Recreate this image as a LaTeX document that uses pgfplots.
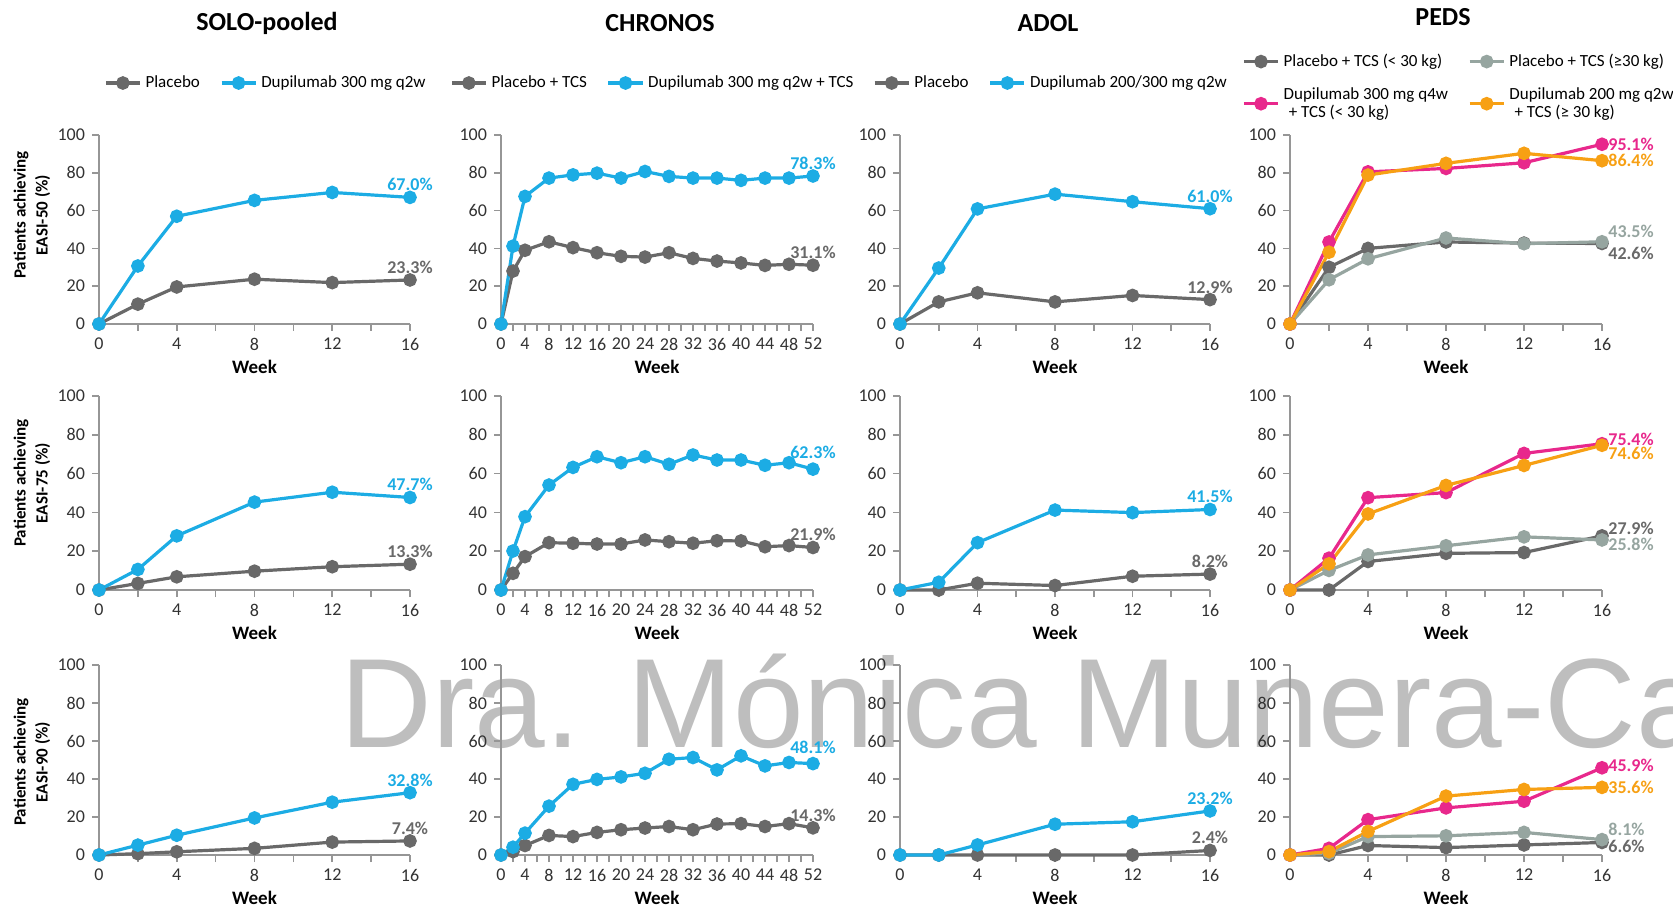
\documentclass[border=0pt]{standalone}
\usepackage{fontspec}
\setmainfont{Carlito}
\newfontfamily\wmfont{Liberation Sans}
\usepackage{pgfplots}
\pgfplotsset{compat=1.18}

\definecolor{cblue}{RGB}{28,172,228}
\definecolor{cgray}{RGB}{105,105,105}
\definecolor{clgray}{RGB}{150,165,160}
\definecolor{cpink}{RGB}{232,40,140}
\definecolor{corange}{RGB}{247,160,20}
\definecolor{axgray}{RGB}{150,150,150}
\definecolor{tickc}{RGB}{50,50,50}
\definecolor{wm}{RGB}{190,190,190}

\pgfplotsset{
  panel/.style={
    scale only axis, clip=false,
    axis x line*=bottom, axis y line*=left,
    axis line style={draw=axgray, line width=0.8pt},
    xmin=0, ymin=0, ymax=100,
    ytick={0,20,...,100},
    tick style={draw=axgray, line width=0.8pt},
    tick align=outside,
    major tick length=3.5pt, minor tick length=3.5pt,
    ticklabel style={font=\fontsize{9}{10}\selectfont, text=tickc},
    /pgf/number format/assume math mode=true,
    xlabel={Week},
    xlabel style={font=\bfseries\fontsize{9.5}{10}\selectfont, text=black, yshift=2pt},
    legend style={draw=none, fill=none, font=\fontsize{8.5}{9}\selectfont,
      legend columns=2, anchor=center, nodes={align=left},
      /tikz/every even column/.append style={column sep=8pt}},
    legend cell align=left,
  },
  w16/.style={xmax=16, xtick={0,4,...,16}, minor xtick={2,6,10,14}},
  w52/.style={xmax=52, xtick={0,4,...,52}, minor xtick={2,6,...,50}},
  ser/.style={color=#1, line width=1.6pt, mark=*, mark size=2.6pt,
    mark options={fill=#1, draw=#1}},
}
\newcommand{\lastlab}[5]{\node[font=\bfseries\fontsize{9}{10}\selectfont, text=#1, inner sep=1pt, #2] at (axis cs:#3,#4) {#5};}

\begin{document}
\begin{tikzpicture}
\useasboundingbox (0,0) rectangle (836.5pt,455.5pt);

% watermark
\begin{scope}
\clip (0,0) rectangle (836.5pt,455.5pt);
\node[anchor=base west, inner sep=0pt, text=wm, font=\wmfont\fontsize{63.5}{70}\selectfont] at (170pt,82pt) {Dra. Mónica Munera-Castro};
\end{scope}

% titles
\node[font=\bfseries\fontsize{13}{14}\selectfont] at (133.5pt,444pt) {SOLO-pooled};
\node[font=\bfseries\fontsize{13}{14}\selectfont] at (330pt,444pt) {CHRONOS};
\node[font=\bfseries\fontsize{13}{14}\selectfont] at (524pt,444pt) {ADOL};
\node[font=\bfseries\fontsize{13}{14}\selectfont] at (721.5pt,447pt) {PEDS};

% y labels
\node[rotate=90, align=center, font=\bfseries\fontsize{8.5}{11}\selectfont] at (16pt,348pt) {Patients achieving\\EASI-50 (\%)};
\node[rotate=90, align=center, font=\bfseries\fontsize{8.5}{11}\selectfont] at (16pt,214pt) {Patients achieving\\EASI-75 (\%)};
\node[rotate=90, align=center, font=\bfseries\fontsize{8.5}{11}\selectfont] at (16pt,74.5pt) {Patients achieving\\EASI-90 (\%)};

% ===== Row 1: EASI-50 =====
\begin{axis}[panel, w16, at={(49.5pt,293.5pt)}, anchor=south west, width=155.5pt, height=94.5pt,
  legend style={at={(0.54,1.275)}}]
\addplot[ser=cgray] coordinates {(0,0) (2,10.5) (4,19.6) (8,23.7) (12,21.9) (16,23.3)};
\addlegendentry{Placebo}
\addplot[ser=cblue] coordinates {(0,0) (2,30.7) (4,57) (8,65.4) (12,69.6) (16,67.0)};
\addlegendentry{Dupilumab 300 mg q2w}
\lastlab{cgray}{anchor=south, yshift=2pt}{16}{23.3}{23.3\%}
\lastlab{cblue}{anchor=south, yshift=2pt}{16}{67.0}{67.0\%}
\end{axis}

\begin{axis}[panel, w52, at={(250.5pt,293.5pt)}, anchor=south west, width=156pt, height=94.5pt,
  legend style={at={(0.49,1.275)}}]
\addplot[ser=cgray] coordinates {(0,0) (2,28) (4,39) (8,43.5) (12,40.4) (16,37.7) (20,35.8) (24,35.4) (28,37.7) (32,34.7) (36,33.3) (40,32.3) (44,31) (48,31.6) (52,31.1)};
\addlegendentry{Placebo + TCS}
\addplot[ser=cblue] coordinates {(0,0) (2,41.2) (4,67.5) (8,77.2) (12,78.9) (16,79.8) (20,77.2) (24,80.7) (28,78.1) (32,77.2) (36,77.2) (40,76) (44,77.2) (48,77.2) (52,78.3)};
\addlegendentry{Dupilumab 300 mg q2w + TCS}
\lastlab{cgray}{anchor=south, yshift=2pt}{52}{31.1}{31.1\%}
\lastlab{cblue}{anchor=south, yshift=2pt}{52}{78.3}{78.3\%}
\end{axis}

\begin{axis}[panel, w16, at={(450pt,293.5pt)}, anchor=south west, width=155pt, height=94.5pt,
  legend style={at={(0.49,1.275)}}]
\addplot[ser=cgray] coordinates {(0,0) (2,11.7) (4,16.5) (8,11.7) (12,15.1) (16,12.9)};
\addlegendentry{Placebo}
\addplot[ser=cblue] coordinates {(0,0) (2,29.6) (4,60.9) (8,68.7) (12,64.7) (16,61.0)};
\addlegendentry{Dupilumab 200/300 mg q2w}
\lastlab{cgray}{anchor=south, yshift=2pt}{16}{12.9}{12.9\%}
\lastlab{cblue}{anchor=south, yshift=2pt}{16}{61.0}{61.0\%}
\end{axis}

\begin{axis}[panel, w16, at={(645pt,293.5pt)}, anchor=south west, width=156pt, height=94.5pt,
  legend style={at={(0.545,1.254)}, /tikz/every odd row/.append style={row sep=5pt}}]
\addplot[ser=cgray] coordinates {(0,0) (2,30) (4,40) (8,43.4) (12,42.8) (16,42.6)};
\addlegendentry{Placebo + TCS (< 30 kg)}
\addplot[ser=clgray] coordinates {(0,0) (2,23.4) (4,34.5) (8,45.5) (12,42.5) (16,43.5)};
\addlegendentry{Placebo + TCS (≥30 kg)}
\addplot[ser=cpink] coordinates {(0,0) (2,43.4) (4,80.5) (8,82.3) (12,85.3) (16,95.1)};
\addlegendentry{Dupilumab 300 mg q4w\\\hspace*{0.3em}+ TCS (< 30 kg)}
\addplot[ser=corange] coordinates {(0,0) (2,38) (4,78.8) (8,85) (12,90.3) (16,86.4)};
\addlegendentry{Dupilumab 200 mg q2w\\\hspace*{0.3em}+ TCS (≥ 30 kg)}
\lastlab{cpink}{anchor=west, xshift=2pt}{16}{95.1}{95.1\%}
\lastlab{corange}{anchor=west, xshift=2pt}{16}{86.4}{86.4\%}
\lastlab{clgray}{anchor=west, xshift=2pt, yshift=5pt}{16}{43.5}{43.5\%}
\lastlab{cgray}{anchor=west, xshift=2pt, yshift=-5pt}{16}{42.6}{42.6\%}
\end{axis}

% ===== Row 2: EASI-75 =====
\begin{axis}[panel, w16, at={(49.5pt,160.5pt)}, anchor=south west, width=155.5pt, height=97pt]
\addplot[ser=cgray] coordinates {(0,0) (2,3.4) (4,6.8) (8,9.7) (12,12) (16,13.3)};
\addplot[ser=cblue] coordinates {(0,0) (2,10.6) (4,27.9) (8,45.3) (12,50.4) (16,47.7)};
\lastlab{cgray}{anchor=south, yshift=2pt}{16}{13.3}{13.3\%}
\lastlab{cblue}{anchor=south, yshift=2pt}{16}{47.7}{47.7\%}
\end{axis}

\begin{axis}[panel, w52, at={(250.5pt,160.5pt)}, anchor=south west, width=156pt, height=97pt]
\addplot[ser=cgray] coordinates {(0,0) (2,8.6) (4,17.2) (8,24.4) (12,24.1) (16,23.7) (20,23.7) (24,25.8) (28,24.9) (32,24.1) (36,25.4) (40,25.3) (44,22.3) (48,22.9) (52,21.9)};
\addplot[ser=cblue] coordinates {(0,0) (2,20.1) (4,37.8) (8,54.1) (12,63.2) (16,68.7) (20,65.6) (24,68.7) (28,64.8) (32,69.6) (36,67) (40,67) (44,64.3) (48,65.6) (52,62.3)};
\lastlab{cgray}{anchor=south, yshift=2pt}{52}{21.9}{21.9\%}
\lastlab{cblue}{anchor=south, yshift=4pt}{52}{62.3}{62.3\%}
\end{axis}

\begin{axis}[panel, w16, at={(450pt,160.5pt)}, anchor=south west, width=155pt, height=97pt]
\addplot[ser=cgray] coordinates {(0,0) (2,0) (4,3.5) (8,2.3) (12,7.1) (16,8.2)};
\addplot[ser=cblue] coordinates {(0,0) (2,4) (4,24.4) (8,41.2) (12,39.9) (16,41.5)};
\lastlab{cgray}{anchor=south, yshift=2pt}{16}{8.2}{8.2\%}
\lastlab{cblue}{anchor=south, yshift=2pt}{16}{41.5}{41.5\%}
\end{axis}

\begin{axis}[panel, w16, at={(645pt,160.5pt)}, anchor=south west, width=156pt, height=97pt]
\addplot[ser=cgray] coordinates {(0,0) (2,0) (4,14.7) (8,18.9) (12,19.3) (16,27.9)};
\addplot[ser=clgray] coordinates {(0,0) (2,10.1) (4,18.1) (8,22.8) (12,27.4) (16,25.8)};
\addplot[ser=cpink] coordinates {(0,0) (2,16.4) (4,47.6) (8,50.2) (12,70.4) (16,75.4)};
\addplot[ser=corange] coordinates {(0,0) (2,13.5) (4,39.2) (8,53.9) (12,64.2) (16,74.6)};
\lastlab{cpink}{anchor=west, xshift=2pt, yshift=2pt}{16}{75.4}{75.4\%}
\lastlab{corange}{anchor=west, xshift=2pt, yshift=-4pt}{16}{74.6}{74.6\%}
\lastlab{cgray}{anchor=west, xshift=2pt, yshift=4pt}{16}{27.9}{27.9\%}
\lastlab{clgray}{anchor=west, xshift=2pt, yshift=-2pt}{16}{25.8}{25.8\%}
\end{axis}

% ===== Row 3: EASI-90 =====
\begin{axis}[panel, w16, at={(49.5pt,28pt)}, anchor=south west, width=155.5pt, height=95pt]
\addplot[ser=cgray] coordinates {(0,0) (2,0.7) (4,1.7) (8,3.5) (12,6.8) (16,7.4)};
\addplot[ser=cblue] coordinates {(0,0) (2,5.2) (4,10.4) (8,19.5) (12,27.8) (16,32.8)};
\lastlab{cgray}{anchor=south, yshift=2pt}{16}{7.4}{7.4\%}
\lastlab{cblue}{anchor=south, yshift=2pt}{16}{32.8}{32.8\%}
\end{axis}

\begin{axis}[panel, w52, at={(250.5pt,28pt)}, anchor=south west, width=156pt, height=95pt]
\addplot[ser=cgray] coordinates {(0,0) (2,1.8) (4,5) (8,10.3) (12,9.7) (16,11.9) (20,13.3) (24,14.2) (28,15) (32,13.3) (36,16.3) (40,16.5) (44,15) (48,16.5) (52,14.3)};
\addplot[ser=cblue] coordinates {(0,0) (2,4.1) (4,11.5) (8,25.7) (12,37.2) (16,39.8) (20,41.1) (24,43) (28,50.4) (32,51.3) (36,44.8) (40,52.2) (44,46.9) (48,48.7) (52,48.1)};
\lastlab{cgray}{anchor=south, yshift=2pt}{52}{14.3}{14.3\%}
\lastlab{cblue}{anchor=south, yshift=4pt}{52}{48.1}{48.1\%}
\end{axis}

\begin{axis}[panel, w16, at={(450pt,28pt)}, anchor=south west, width=155pt, height=95pt]
\addplot[ser=cgray] coordinates {(0,0) (2,0) (4,0) (8,0) (12,0) (16,2.4)};
\addplot[ser=cblue] coordinates {(0,0) (2,0) (4,5.3) (8,16.2) (12,17.5) (16,23.2)};
\lastlab{cgray}{anchor=south, yshift=2pt}{16}{2.4}{2.4\%}
\lastlab{cblue}{anchor=south, yshift=2pt}{16}{23.2}{23.2\%}
\end{axis}

\begin{axis}[panel, w16, at={(645pt,28pt)}, anchor=south west, width=156pt, height=95pt]
\addplot[ser=cgray] coordinates {(0,0) (2,0) (4,5) (8,3.9) (12,5.3) (16,6.6)};
\addplot[ser=clgray] coordinates {(0,0) (2,0.9) (4,9.7) (8,10.1) (12,11.9) (16,8.1)};
\addplot[ser=cpink] coordinates {(0,0) (2,3.5) (4,18.6) (8,24.8) (12,28.3) (16,45.9)};
\addplot[ser=corange] coordinates {(0,0) (2,1.8) (4,12.4) (8,31) (12,34.5) (16,35.6)};
\lastlab{cpink}{anchor=west, xshift=2pt, yshift=1pt}{16}{45.9}{45.9\%}
\lastlab{corange}{anchor=west, xshift=2pt}{16}{35.6}{35.6\%}
\lastlab{clgray}{anchor=west, xshift=2pt, yshift=5pt}{16}{8.1}{8.1\%}
\lastlab{cgray}{anchor=west, xshift=2pt, yshift=-2pt}{16}{6.6}{6.6\%}
\end{axis}
\end{tikzpicture}
\end{document}
